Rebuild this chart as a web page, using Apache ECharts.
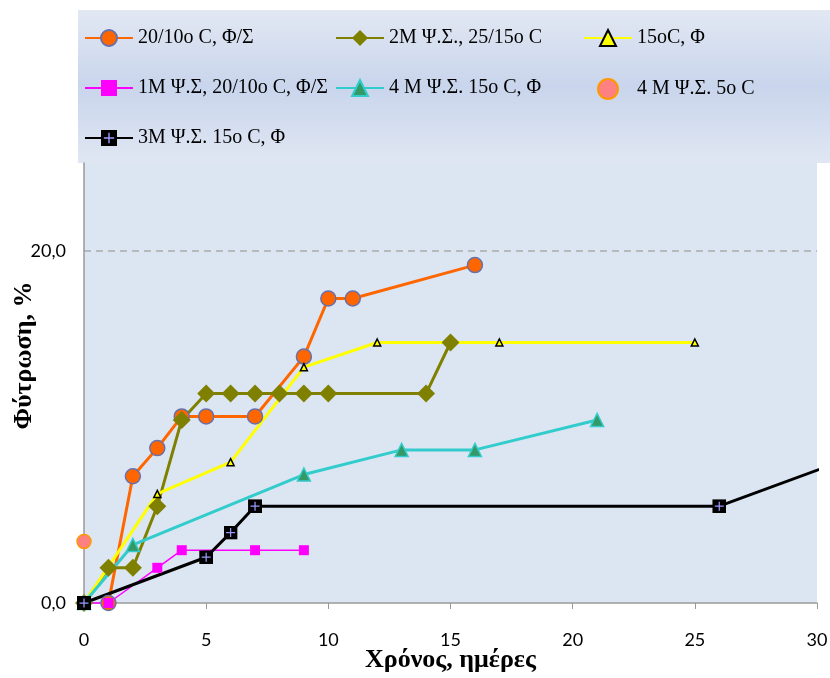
<!DOCTYPE html>
<html>
<head>
<meta charset="utf-8">
<script src="https://cdn.jsdelivr.net/npm/echarts@6/dist/echarts.min.js"></script>
<style>html,body{margin:0;padding:0;background:#fff;}#c{width:830px;height:678px;}</style>
</head>
<body>
<div id="c"></div>
<script>
// ---- data ----
const xTicks = [0, 5, 10, 15, 20, 25, 30];
const yTicks = [0, 20];
const seriesNames = ["20/10o C, Φ/Σ", "2M Ψ.Σ., 25/15o C", "15oC, Φ", "1M Ψ.Σ, 20/10o C, Φ/Σ", "4 M Ψ.Σ. 15o C, Φ", "4 M Ψ.Σ. 5o C", "3M Ψ.Σ. 15o C, Φ"];

const s1Days = [1, 2, 3, 4, 5, 7, 9, 10, 11, 16];
const s1Vals = [0, 7.2, 8.8, 10.6, 10.6, 10.6, 14.0, 17.3, 17.3, 19.2];

const s2Days = [0, 1, 2, 3, 4, 5, 6, 7, 8, 9, 10, 14, 15];
const s2Vals = [0, 2.0, 2.0, 5.5, 10.4, 11.9, 11.9, 11.9, 11.9, 11.9, 11.9, 11.9, 14.8];

const s3Days = [0, 3, 6, 9, 12, 17, 25];
const s3Vals = [0, 6.2, 8.0, 13.4, 14.8, 14.8, 14.8];

const s4Days = [0, 1, 3, 4, 7, 9];
const s4Vals = [0, 0, 2.0, 3.0, 3.0, 3.0];

const s5Days = [0, 2, 9, 13, 16, 21];
const s5Vals = [0, 3.3, 7.3, 8.7, 8.7, 10.4];

const s6Days = [0];
const s6Vals = [3.5];

const s7Days = [0, 5, 6, 7, 26, 35];
const s7Vals = [0, 2.6, 4.0, 5.5, 5.5, 10.1];

const pairs = (xs, ys) => xs.map((x, i) => [x, ys[i]]);

const blackSym = 'image://data:image/svg+xml;charset=utf-8,' + encodeURIComponent(
  "<svg xmlns='http://www.w3.org/2000/svg' width='28' height='28'><rect width='28' height='28' fill='#000'/><path d='M14 5V23M5 14H23' stroke='#9999ff' stroke-width='2.5'/></svg>");

const serifFont = '"Liberation Serif", "DejaVu Serif", serif';
const tickFont = 'Lato, "DejaVu Sans Condensed", sans-serif';

const chart = echarts.init(document.getElementById('c'), null, {renderer: 'canvas'});

const legendText = {fontFamily: serifFont, fontSize: 20, color: '#000'};
function leg(left, names) {
  return {
    left: left, top: 28, orient: 'vertical', itemWidth: 48, itemHeight: 20, itemGap: 30,
    data: names, textStyle: legendText, selectedMode: false, padding: 0
  };
}

chart.setOption({
  animation: false,
  backgroundColor: '#fff',
  graphic: [{
    type: 'rect', z: -10, silent: true,
    shape: {x: 78, y: 10, width: 760, height: 153},
    style: {
      fill: new echarts.graphic.LinearGradient(0, 0, 0, 1, [
        {offset: 0, color: '#e2e8f3'},
        {offset: 0.5, color: '#c9d5ec'},
        {offset: 1, color: '#e0e7f3'}
      ])
    }
  }],
  legend: [
    leg(84, [seriesNames[0], seriesNames[3], seriesNames[6]]),
    leg(335, [seriesNames[1], seriesNames[4]]),
    leg(583, [seriesNames[2], seriesNames[5]])
  ],
  grid: {left: 84, right: 13, top: 163, bottom: 75, show: true, backgroundColor: '#dce6f2', borderWidth: 0,
    containLabel: false, outerBoundsMode: 'none'},
  xAxis: {
    type: 'value', min: xTicks[0], max: xTicks[xTicks.length - 1], interval: 5,
    name: 'Χρόνος, ημέρες', nameLocation: 'middle', nameGap: 44, nameMoveOverlap: false,
    nameTextStyle: {fontFamily: serifFont, fontWeight: 'bold', fontSize: 26, color: '#000'},
    axisLine: {show: true, onZero: false, lineStyle: {color: '#9a9a9a', width: 1.5}},
    axisTick: {show: true, inside: false, length: 6, lineStyle: {color: '#9a9a9a'}},
    axisLabel: {fontFamily: tickFont, fontSize: 18, color: '#000', margin: 28},
    splitLine: {show: false}
  },
  yAxis: {
    type: 'value', min: 0, max: 25, interval: yTicks[1] - yTicks[0],
    name: 'Φύτρωση, %', nameLocation: 'middle', nameGap: 47, nameRotate: 90, nameMoveOverlap: false,
    nameTextStyle: {fontFamily: serifFont, fontWeight: 'bold', fontSize: 26, color: '#000', padding: [0, 0, 0, 55]},
    axisLine: {show: true, onZero: false, lineStyle: {color: '#9a9a9a', width: 1.5}},
    axisTick: {show: false},
    axisLabel: {fontFamily: tickFont, fontSize: 18, color: '#000', margin: 18, showMaxLabel: false,
      formatter: v => v.toFixed(1).replace('.', ',')},
    splitLine: {show: true, lineStyle: {color: ['rgba(0,0,0,0)', '#aaaaaa', 'rgba(0,0,0,0)'], type: [7, 5], width: 1.5}}
  },
  series: [
    {name: seriesNames[0], type: 'line', data: pairs(s1Days, s1Vals), clip: false,
      symbol: 'circle', symbolSize: 15,
      lineStyle: {color: '#ff6600', width: 3},
      itemStyle: {color: '#ff6600', borderColor: '#6870aa', borderWidth: 1.5}},
    {name: seriesNames[1], type: 'line', data: pairs(s2Days, s2Vals), clip: false,
      symbol: 'diamond', symbolSize: 18,
      lineStyle: {color: '#808000', width: 3},
      itemStyle: {color: '#808000', borderWidth: 0}},
    {name: seriesNames[2], type: 'line', data: pairs(s3Days, s3Vals), clip: false,
      symbol: 'triangle', symbolSize: 7,
      lineStyle: {color: '#ffff00', width: 3},
      itemStyle: {color: '#ffff00', borderColor: '#000', borderWidth: 1.5}},
    {name: seriesNames[3], type: 'line', data: pairs(s4Days, s4Vals), clip: false,
      symbol: 'rect', symbolSize: 10,
      lineStyle: {color: '#ff00ff', width: 1.5},
      itemStyle: {color: '#ff00ff', borderWidth: 0}},
    {name: seriesNames[4], type: 'line', data: pairs(s5Days, s5Vals), clip: false,
      symbol: 'triangle', symbolSize: 13,
      lineStyle: {color: '#33cccc', width: 3},
      itemStyle: {color: '#339966', borderColor: '#33cccc', borderWidth: 1.5}},
    {name: seriesNames[5], type: 'scatter', data: pairs(s6Days, s6Vals), clip: false,
      symbol: 'circle', symbolSize: 14,
      itemStyle: {color: '#ff8080', borderColor: '#ff9900', borderWidth: 1.5, opacity: 1}},
    {name: seriesNames[6], type: 'line', data: pairs(s7Days, s7Vals), clip: false,
      symbol: blackSym, symbolSize: 14,
      lineStyle: {color: '#000', width: 3},
      itemStyle: {color: '#000'}}
  ]
});
</script>
</body>
</html>
